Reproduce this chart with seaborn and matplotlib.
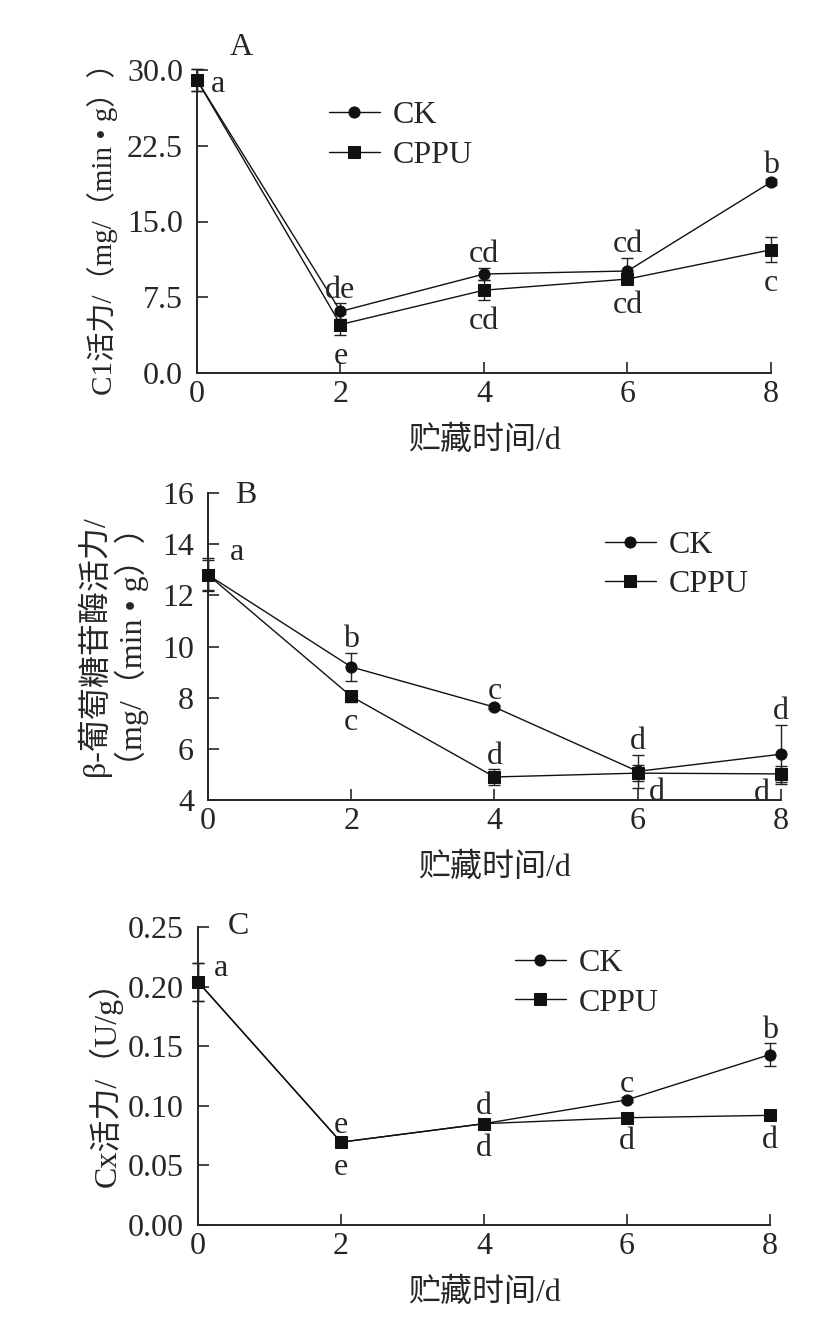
import numpy as np
import pandas as pd
import matplotlib
matplotlib.use('Agg')
import matplotlib.pyplot as plt
import seaborn as sns

# datos
dias = [0, 2, 4, 6, 8]
grupos = ['CK', 'CPPU']

c1_ck = [29.0, 6.1, 9.8, 10.1, 18.9]
c1_ck_err = [1.1, 0.8, 0.6, 1.3, 0.3]
c1_cppu = [29.0, 4.8, 8.2, 9.3, 12.2]
c1_cppu_err = [1.1, 1.0, 1.0, 0.5, 1.25]
c1_letras_ck = ['a', 'de', 'cd', 'cd', 'b']
c1_letras_cppu = ['', 'e', 'cd', 'cd', 'c']

bg_ck = [12.8, 9.2, 7.63, 5.12, 5.79]
bg_ck_err = [0.6, 0.55, 0.08, 0.65, 1.15]
bg_cppu = [12.8, 8.05, 4.9, 5.05, 5.02]
bg_cppu_err = [0.65, 0.2, 0.3, 0.3, 0.3]
bg_letras_ck = ['a', 'b', 'c', 'd', 'd']
bg_letras_cppu = ['', 'c', 'd', 'd', 'd']

cx_ck = [0.204, 0.0695, 0.085, 0.105, 0.143]
cx_ck_err = [0.016, 0.003, 0.003, 0.002, 0.0095]
cx_cppu = [0.204, 0.0695, 0.085, 0.090, 0.092]
cx_cppu_err = [0.016, 0.003, 0.003, 0.002, 0.003]
cx_letras_ck = ['a', 'e', 'd', 'c', 'b']
cx_letras_cppu = ['', 'e', 'd', 'd', 'd']

# posición de la letra respecto al punto: arriba, abajo, derecha...
c1_pos_ck = ['right', 'up', 'up', 'up', 'up']
c1_pos_cppu = ['', 'down', 'down', 'down', 'down']
bg_pos_ck = ['right', 'up', 'up', 'up', 'up']
bg_pos_cppu = ['', 'down', 'up', 'downright', 'downleft']
cx_pos_ck = ['right', 'up', 'up', 'up', 'up']
cx_pos_cppu = ['', 'down', 'down', 'down', 'down']

sns.set_style('ticks')
plt.rcParams['font.family'] = ['Liberation Serif', 'Noto Sans CJK SC']
FS = 23

W, H = 837, 1332
fig = plt.figure(figsize=(W / 100, H / 100), dpi=100)


def ejes(izq, der, arr, aba):
    return fig.add_axes([izq / W, 1 - aba / H, (der - izq) / W, (aba - arr) / H])


def panel(ax, ck, ck_err, cppu, cppu_err, l_ck, l_cppu, p_ck, p_cppu,
          ylim, yticks, yfmt, letra, letra_pos, a_off, leg_pos):
    df = pd.DataFrame({'dia': dias * 2,
                       'valor': ck + cppu,
                       'grupo': ['CK'] * 5 + ['CPPU'] * 5})
    for g, v, e in [('CK', ck, ck_err), ('CPPU', cppu, cppu_err)]:
        ax.errorbar(dias, v, yerr=e, fmt='none', ecolor='#222222',
                    elinewidth=1, capsize=4.5, capthick=1, zorder=2, clip_on=False)
    sns.lineplot(data=df, x='dia', y='valor', hue='grupo', style='grupo',
                 markers={'CK': 'o', 'CPPU': 's'}, dashes=False,
                 palette={'CK': '#111111', 'CPPU': '#111111'},
                 markersize=8, linewidth=1, markeredgecolor='#111111',
                 ax=ax, zorder=3, clip_on=False)
    ax.set_xlim(0, 8)
    ax.set_ylim(*ylim)
    ax.set_xticks(dias)
    ax.set_yticks(yticks)
    ax.set_yticklabels([yfmt.format(t) for t in yticks])
    ax.tick_params(axis='x', direction='in', length=8, width=1.2, labelsize=FS, pad=5)
    ax.tick_params(axis='y', direction='in', length=8, width=1.2, labelsize=FS, pad=10)
    for s in ['top', 'right']:
        ax.spines[s].set_visible(False)
    for s in ['left', 'bottom']:
        ax.spines[s].set_linewidth(1.4)
    ax.set_xlabel('贮藏时间/d', fontsize=FS, labelpad=12)
    ax.text(letra_pos[0], letra_pos[1], letra, transform=ax.transAxes, fontsize=FS,
            va='center', ha='left')
    offs = {'up': (0, -1, 'center', 'bottom'),
            'down': (0, -5, 'center', 'top'),
            'right': (a_off[0], a_off[1], 'center', 'center'),
            'downright': (8, 2, 'left', 'top'),
            'downleft': (-8, 2, 'right', 'top')}
    for vals, errs, letras, poss in [(ck, ck_err, l_ck, p_ck),
                                     (cppu, cppu_err, l_cppu, p_cppu)]:
        for d, v, e, t, p in zip(dias, vals, errs, letras, poss):
            if not t:
                continue
            dx, dy, ha, va = offs[p]
            if p == 'up':
                y = v + e
            elif p == 'right':
                y = v
            else:
                y = v - e
            ax.annotate(t, (d, y), xytext=(dx, dy), textcoords='offset points',
                        ha=ha, va=va, fontsize=FS)
    leg = ax.legend(loc='upper left', bbox_to_anchor=leg_pos, frameon=False,
                    fontsize=FS, handlelength=1.6, handletextpad=0.4,
                    labelspacing=0.32, borderaxespad=0)
    for h in leg.legend_handles:
        h.set_markersize(8)


axA = ejes(197, 771, 70, 373)
panel(axA, c1_ck, c1_ck_err, c1_cppu, c1_cppu_err, c1_letras_ck, c1_letras_cppu,
      c1_pos_ck, c1_pos_cppu, (0, 30), [0, 7.5, 15, 22.5, 30], '{:.1f}', 'A',
      (0.057, 1.073), (15, -3.5), (0.207, 0.94))
axA.set_ylabel('C1活力/（mg/（min • g））', fontsize=21, va='center')
axA.yaxis.set_label_coords(-0.164, 0.5)

axB = ejes(208, 781, 493, 800)
panel(axB, bg_ck, bg_ck_err, bg_cppu, bg_cppu_err, bg_letras_ck, bg_letras_cppu,
      bg_pos_ck, bg_pos_cppu, (4, 16), [4, 6, 8, 10, 12, 14, 16], '{:.0f}', 'B',
      (0.047, 0.993), (21, 16), (0.67, 0.92))
axB.set_ylabel('β-葡萄糖苷酶活力/\n（mg/（min • g））', fontsize=FS,
               linespacing=1.15, va='center')
axB.yaxis.set_label_coords(-0.166, 0.5)

axC = ejes(198, 770, 927, 1225)
panel(axC, cx_ck, cx_ck_err, cx_cppu, cx_cppu_err, cx_letras_ck, cx_letras_cppu,
      cx_pos_ck, cx_pos_cppu, (0, 0.25), [0, 0.05, 0.10, 0.15, 0.20, 0.25], '{:.2f}', 'C',
      (0.052, 1.0), (16.5, 9.5), (0.531, 0.97))
axC.set_ylabel('Cx活力/（U/g）', fontsize=FS, va='center')
axC.yaxis.set_label_coords(-0.161, 0.5)

fig.savefig('out.png', dpi=100)
